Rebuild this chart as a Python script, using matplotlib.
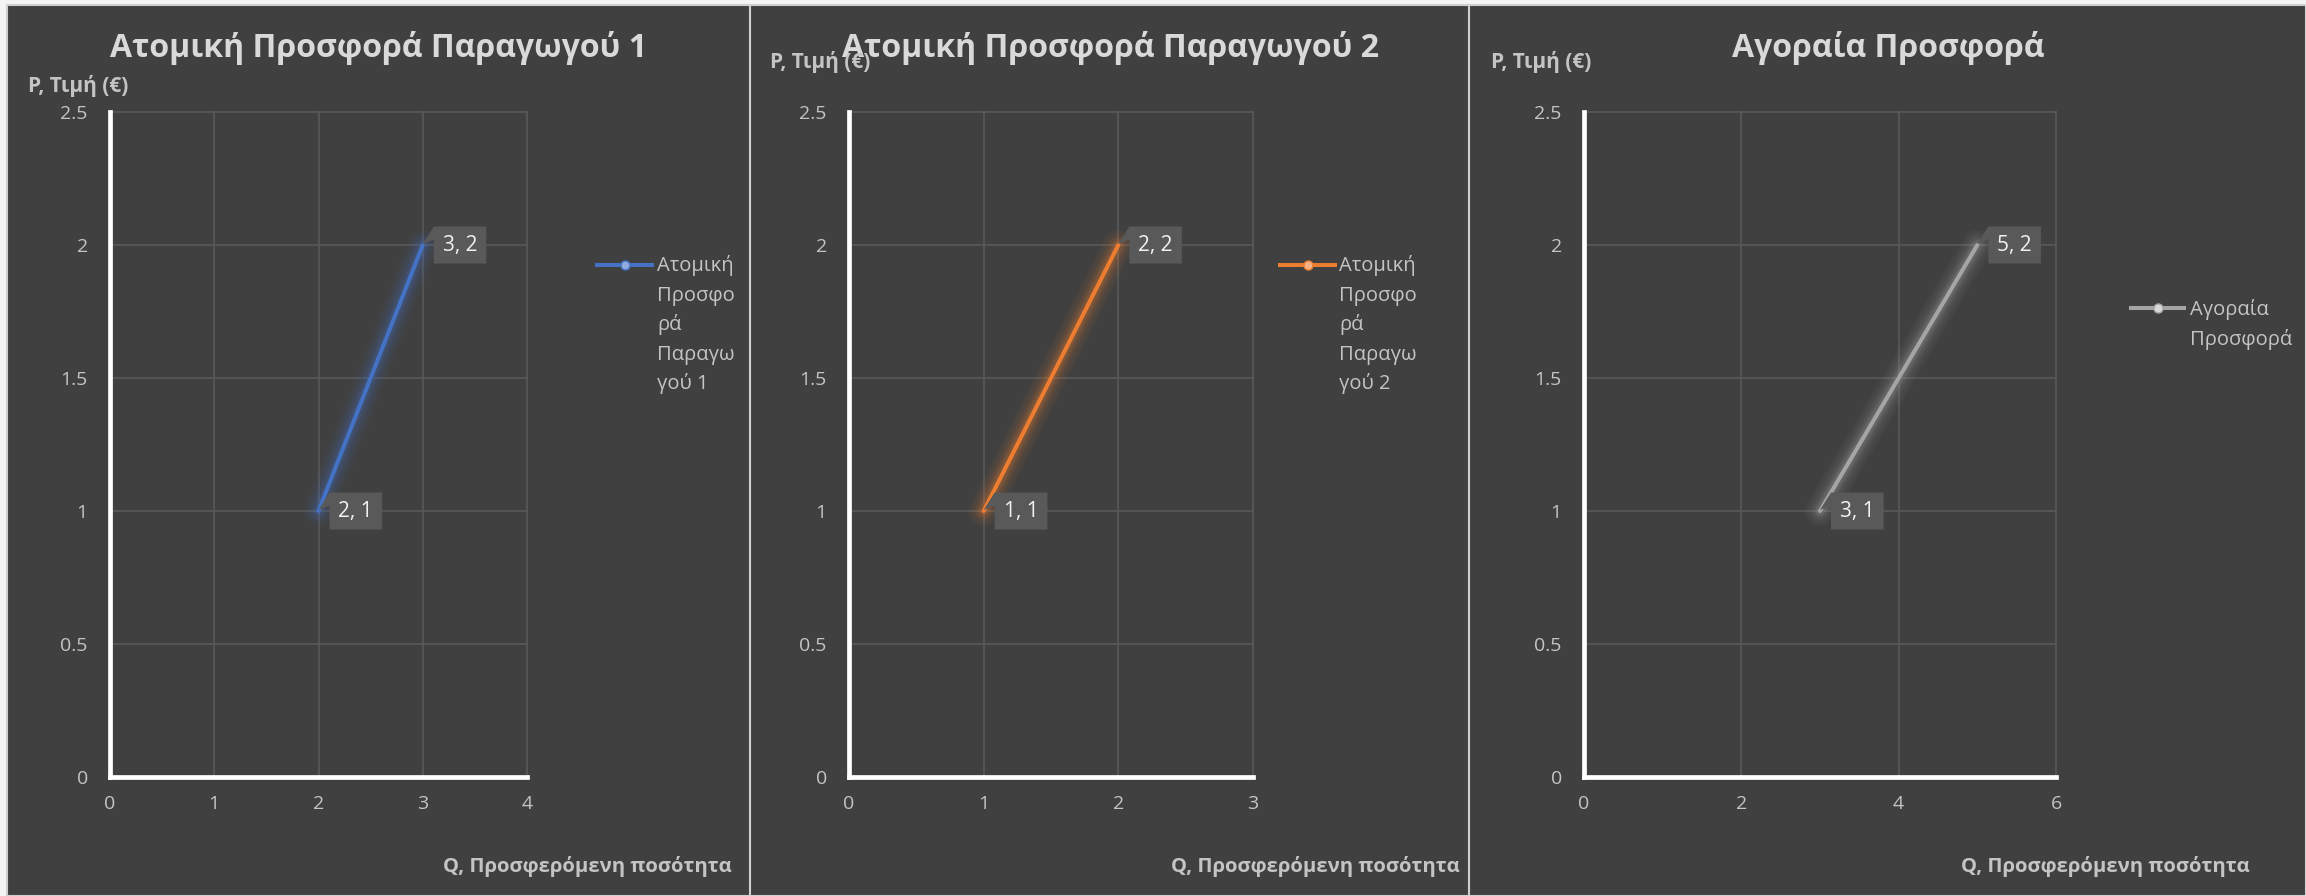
import matplotlib
matplotlib.use("Agg")
import matplotlib.pyplot as plt
from matplotlib.lines import Line2D
from matplotlib.patches import Rectangle
from matplotlib.path import Path
from matplotlib.ticker import MultipleLocator, FuncFormatter

plt.rcParams['font.family'] = ['Open Sans', 'DejaVu Sans']

# ---------------- data ----------------
titles = ["Ατομική Προσφορά Παραγωγού 1",
          "Ατομική Προσφορά Παραγωγού 2",
          "Αγοραία Προσφορά"]
legend_lines = [["Ατομική", "Προσφο", "ρά", "Παραγω", "γού 1"],
                ["Ατομική", "Προσφο", "ρά", "Παραγω", "γού 2"],
                ["Αγοραία", "Προσφορά"]]
q_values = [[2, 3], [1, 2], [3, 5]]
p_values = [[1, 2], [1, 2], [1, 2]]
x_max = [4, 3, 6]
x_step = [1, 1, 2]
y_max = 2.5
y_step = 0.5
y_label = "P, Τιμή (€)"
x_label = "Q, Προσφερόμενη ποσότητα"
colors = ["#4472C4", "#ED7D31", "#A5A5A5"]
marker_face = ["#8FAADC", "#F4B183", "#D9D9D9"]

# ---------------- layout (pixels, top-left origin) ----------------
W, H, DPI = 2306, 896, 100
axes_px = [(110, 112, 527, 777), (849, 112, 1253, 777), (1584, 112, 2056, 777)]
title_px = [(378, 48), (1110, 48), (1888, 48)]
ylab_px = [(28, 86), (770, 62), (1491, 62)]
xlab_px = [(732, 866), (1460, 866), (2250, 866)]
leg_line_px = [(597, 652, 265), (1280, 1335, 265), (2131, 2184, 308)]
leg_text_px = [(657, 271), (1339, 271), (2190, 315)]
leg_spacing = 29.5

BG = "#404040"
GRID = "#595959"
TXT = "#C4C4C4"
TITLE_C = "#D9D9D9"


def fx(x):
    return x / W


def fy(y):
    return 1 - y / H


def label_box(x0, y0, width, height, mutation_size):
    # data-label box (display pixels) with a small callout tail to the left
    hpad, half_h, gap = 9.0, 18.5, 11.0
    cy = y0 + height / 2.0
    bx0, bx1 = x0 - hpad, x0 + width + hpad
    by0, by1 = cy - half_h, cy + half_h
    verts = [(bx0, by0), (bx1, by0), (bx1, by1), (bx0, by1),
             (bx0 - gap, cy + 1), (bx0, by1 - 13), (bx0, by0), (bx0, by0)]
    codes = [Path.MOVETO] + [Path.LINETO] * 6 + [Path.CLOSEPOLY]
    return Path(verts, codes)


fig = plt.figure(figsize=(W / DPI, H / DPI), dpi=DPI, facecolor="#F4F4F4")

# panel background and separators
fig.add_artist(Rectangle((fx(7), 0), 1 - fx(7), fy(5), transform=fig.transFigure,
                         facecolor=BG, edgecolor="#CFCFCF", lw=1.5, zorder=0))
for sx in (750, 1469):
    fig.add_artist(Line2D([fx(sx), fx(sx)], [0, fy(5)], transform=fig.transFigure,
                          color="#CFCFCF", lw=1.5, zorder=0.5))

for i in range(3):
    l, t, r, b = axes_px[i]
    ax = fig.add_axes([fx(l), fy(b), fx(r) - fx(l), fy(t) - fy(b)])
    ax.patch.set_visible(False)
    ax.set_xlim(0, x_max[i])
    ax.set_ylim(0, y_max)
    ax.xaxis.set_major_locator(MultipleLocator(x_step[i]))
    ax.yaxis.set_major_locator(MultipleLocator(y_step))
    ax.xaxis.set_major_formatter(FuncFormatter(lambda v, p: f"{v:g}"))
    ax.yaxis.set_major_formatter(FuncFormatter(lambda v, p: f"{v:g}"))
    ax.grid(True, color=GRID, lw=1.2, zorder=0)
    ax.set_axisbelow(True)
    for g in ax.get_xgridlines() + ax.get_ygridlines():
        g.set_clip_on(False)
    for s in ("top", "right"):
        ax.spines[s].set_visible(False)
    for s in ("left", "bottom"):
        ax.spines[s].set_color("white")
        ax.spines[s].set_linewidth(3.4)
    ax.tick_params(length=0, colors=TXT, labelsize=14)
    ax.tick_params(axis="y", pad=16)
    ax.tick_params(axis="x", pad=13)

    q, p, c = q_values[i], p_values[i], colors[i]
    # glow
    for w, a in [(30, 0.05), (24, 0.06), (18, 0.08), (13, 0.11), (9, 0.15)]:
        ax.plot(q, p, color=c, lw=w * 0.72, alpha=a, solid_capstyle="round", zorder=2)
    ax.plot(q, p, color=c, lw=2.9, solid_capstyle="round", zorder=3)

    for xv, yv in zip(q, p):
        ax.annotate(f"{xv:g}, {yv:g}", xy=(xv, yv), xytext=(20, 0),
                    textcoords="offset pixels", ha="left", va="center",
                    fontsize=15, color="#F2F2F2", zorder=5,
                    bbox=dict(boxstyle=label_box, fc="#595959", ec="none"))

    # title & axis labels
    fig.text(fx(title_px[i][0]), fy(title_px[i][1]), titles[i], ha="center", va="center",
             fontsize=23, fontweight="bold", color=TITLE_C)
    fig.text(fx(ylab_px[i][0]), fy(ylab_px[i][1]), y_label, ha="left", va="center",
             fontsize=15, fontweight="bold", color=TXT)
    fig.text(fx(xlab_px[i][0]), fy(xlab_px[i][1]), x_label, ha="right", va="center",
             fontsize=14.6, fontweight="bold", color=TXT)

    # legend
    x0, x1, ly = leg_line_px[i]
    fig.add_artist(Line2D([fx(x0), fx(x1)], [fy(ly), fy(ly)], transform=fig.transFigure,
                          color=c, lw=2.9))
    fig.add_artist(Line2D([fx((x0 + x1) / 2)], [fy(ly)], transform=fig.transFigure,
                          marker="o", markersize=6.5, color=c, mfc=marker_face[i], mec=c, lw=0))
    tx, ty = leg_text_px[i]
    for k, line in enumerate(legend_lines[i]):
        fig.text(fx(tx), fy(ty + k * leg_spacing), line, ha="left", va="baseline",
                 fontsize=14.5, color=TXT)

fig.savefig("out.png", dpi=DPI, facecolor=fig.get_facecolor())
